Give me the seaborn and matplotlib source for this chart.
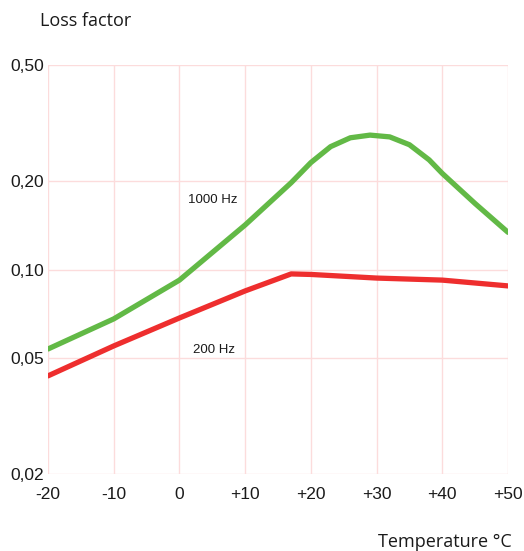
import numpy as np
import pandas as pd
import seaborn as sns
import matplotlib.pyplot as plt
from matplotlib.ticker import NullLocator

sns.set_style("white")
plt.rcParams['font.family'] = ['Liberation Sans', 'DejaVu Sans']

# values
temp_1000 = [-20, -10, 0, 10, 17, 20, 23, 26, 29, 32, 35, 38, 40, 45, 50]
loss_1000 = [0.0535, 0.0678, 0.092, 0.142, 0.198, 0.232, 0.263, 0.282, 0.288, 0.284, 0.267, 0.237, 0.213, 0.168, 0.134]
temp_200 = [-20, -10, 0, 10, 17, 20, 30, 40, 50]
loss_200 = [0.0433, 0.0548, 0.0683, 0.0845, 0.0966, 0.0962, 0.0935, 0.092, 0.0879]

xticks = [-20, -10, 0, 10, 20, 30, 40, 50]
xlabels = ["-20", "-10", "0", "+10", "+20", "+30", "+40", "+50"]
yticks = [0.02, 0.05, 0.10, 0.20, 0.50]
ylabels = ["0,02", "0,05", "0,10", "0,20", "0,50"]

df = pd.concat([
    pd.DataFrame({"temp": temp_1000, "loss": loss_1000, "freq": "1000 Hz"}),
    pd.DataFrame({"temp": temp_200, "loss": loss_200, "freq": "200 Hz"}),
])

fig = plt.figure(figsize=(5.24, 5.51), dpi=100)
ax = fig.add_axes([0.0916, 0.1397, 0.8779, 0.7423])

ax.set_yscale("log")
sns.lineplot(data=df, x="temp", y="loss", hue="freq",
             palette={"1000 Hz": "#62b946", "200 Hz": "#ee2e2e"},
             linewidth=3.8, legend=False, ax=ax, zorder=3)

ax.set_xlim(-20, 50)
ax.set_ylim(0.02, 0.5)
ax.set_xticks(xticks)
ax.set_xticklabels(xlabels)
ax.set_yticks(yticks)
ax.set_yticklabels(ylabels)
ax.yaxis.set_minor_locator(NullLocator())
ax.tick_params(axis="both", length=0, labelsize=12.5, colors="#1a1a1a")
ax.tick_params(axis="y", pad=3)
ax.tick_params(axis="x", pad=9)
ax.grid(True, color="#fcdcdc", linewidth=1.0, zorder=0)
for s in ax.spines.values():
    s.set_visible(False)
ax.set_xlabel("")
ax.set_ylabel("")

ax.text(5, 0.173, "1000 Hz", ha="center", va="center", fontsize=9.5, color="#1a1a1a")
ax.text(5.3, 0.053, "200 Hz", ha="center", va="center", fontsize=9.5, color="#1a1a1a")

fig.text(40 / 524, 1 - 21 / 551, "Loss factor", ha="left", va="center",
         fontsize=13, family=["Open Sans", "DejaVu Sans"], color="#1a1a1a")
fig.text(512 / 524, 1 - 542 / 551, "Temperature °C", ha="right", va="center",
         fontsize=13, family=["Open Sans", "DejaVu Sans"], color="#1a1a1a")

fig.savefig("out.png", dpi=100)
